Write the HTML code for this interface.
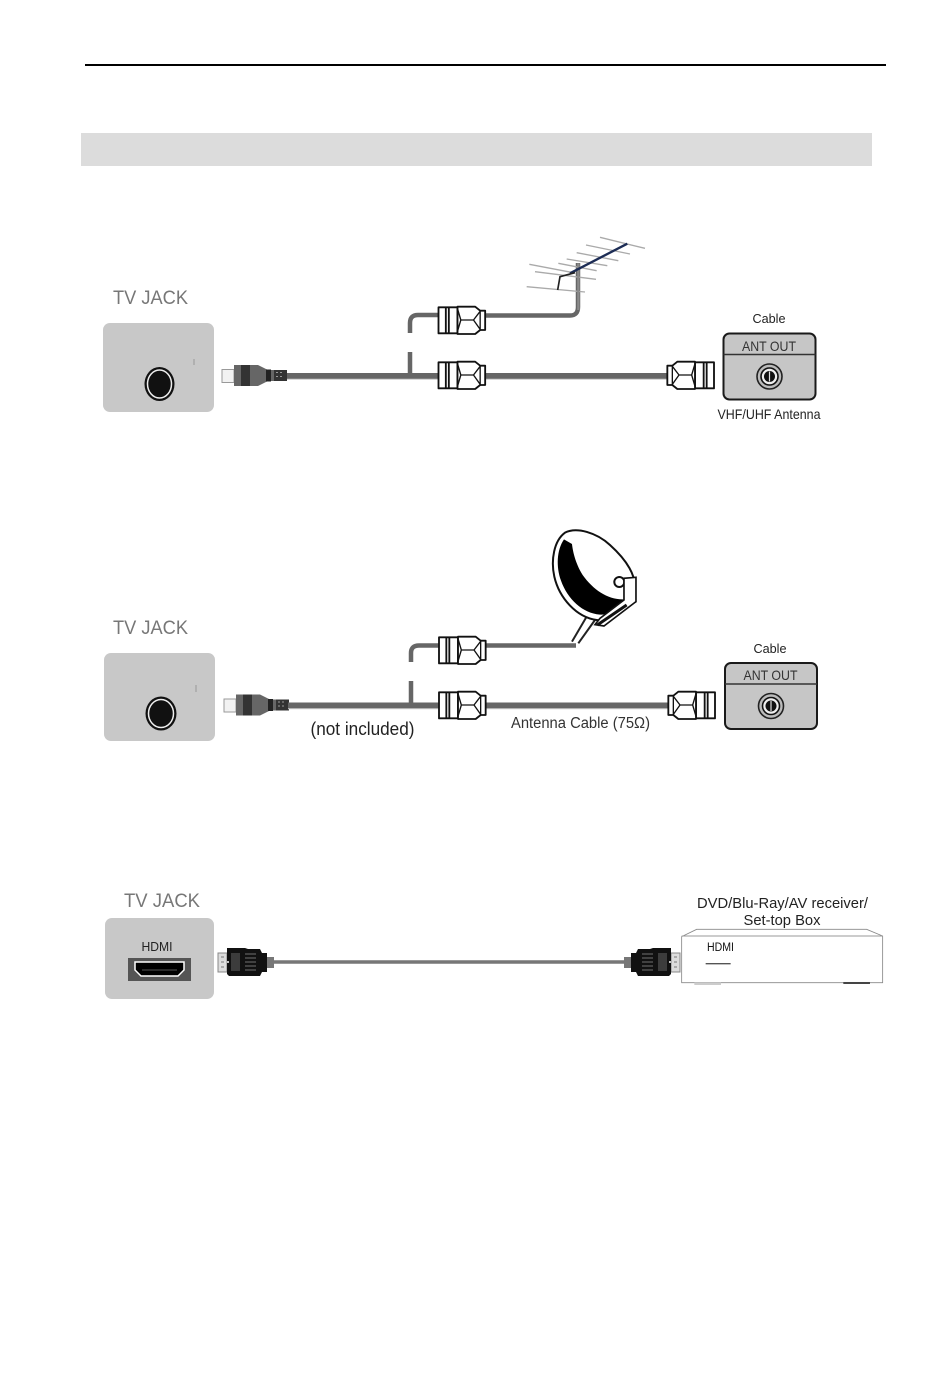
<!DOCTYPE html>
<html><head><meta charset="utf-8"><style>
html,body{margin:0;padding:0;background:#fff;width:950px;height:1381px;overflow:hidden}
svg{display:block}
text{font-family:"Liberation Sans",sans-serif}
</style></head><body>
<svg width="950" height="1381" viewBox="0 0 950 1381" xmlns="http://www.w3.org/2000/svg">
<defs>
<g id="f" fill="#fff" stroke="#111" stroke-linejoin="round">
<g transform="scale(.3333) translate(-25,-58)" stroke-width="5.500">
<rect x="25" y="20" width="57" height="78"/>
<path d="M47 20V98M56 20V98" fill="none"/>
<path d="M82 18H135L150 30H165V88H150L135 100H82Z"/>
<path d="M82 24L92 58L82 92M92 58H130L150 32M130 58L150 86M150 30V88" fill="none" stroke-width="4"/>
</g>
</g>
<g id="coax">
<rect x="222" y="-6" width="12" height="13" fill="#f2f2f2" stroke="#999" stroke-width="1"/>
<path d="M234 -10.500H258L268 -5.500H287V5.500H268L258 10.500H234Z" fill="#666"/>
<rect x="241" y="-10.500" width="9" height="21" fill="#333"/>
<rect x="266" y="-6" width="5" height="12" fill="#222"/>
<path d="M274 -5.500H287V5.500H274Z" fill="#333"/>
<path d="M276 -3h2M280 -3h2M276 1h2M280 1h2" stroke="#999" stroke-width="1"/>
</g>
<g id="hdmi">
<rect x="0" y="-9" width="9" height="19" fill="#ddd" stroke="#888" stroke-width="1"/>
<path d="M3 -5h3M3 0h3M3 5h3" stroke="#777"/>
<path d="M9 -14H27L30 -13H42L44 -9H49V10H44L42 14H11L9 12Z" fill="#111"/>
<rect x="13" y="-9" width="9" height="18" fill="#3c3c3c"/>
<path d="M27 -8h11M27 -4h11M27 0h11M27 4h11M27 8h11" stroke="#484848" stroke-width="1.800"/>
<circle cx="10" cy="0" r="1" fill="#fff"/>
<rect x="49" y="-5" width="7" height="11" fill="#777"/>
</g>
<g id="ant">
<rect x="0" y="0" width="92" height="66" rx="6" fill="#c6c6c6" stroke="#1a1a1a" stroke-width="2"/>
<path d="M0 21H92" stroke="#333" stroke-width="1.600"/>
<circle cx="46" cy="43" r="12.500" fill="#bbb" stroke="#222" stroke-width="1.600"/>
<circle cx="46" cy="43" r="8.500" fill="#eee" stroke="#111" stroke-width="1.600"/>
<circle cx="46" cy="43" r="5.500" fill="#111"/>
<path d="M46 38V48" stroke="#ddd" stroke-width="1.200"/>
</g>
</defs>

<rect width="950" height="1381" fill="#fff"/>
<rect x="85" y="64" width="801" height="2" fill="#000"/>
<rect x="81" y="133" width="791" height="33" fill="#dcdcdc"/>

<!-- Diagram 1 -->
<text x="113" y="304" font-size="19" fill="#777" textLength="75" lengthAdjust="spacingAndGlyphs">TV JACK</text>
<rect x="103" y="323" width="111" height="89" rx="7" fill="#c8c8c8"/>
<path d="M194 359v6" stroke="#999"/>
<ellipse cx="159.500" cy="384" rx="15" ry="17" fill="#111"/>
<ellipse cx="159.500" cy="384" rx="12" ry="14" fill="none" stroke="#eee" stroke-width="1.500"/>
<use href="#coax" transform="translate(0,375.500)"/>
<path d="M287 376H669" stroke="#666" stroke-width="6"/>
<path d="M287 379.300H669" stroke="#ccc" stroke-width="1"/>
<path d="M410 376V352M410 333V323Q410 315 418 315H440" fill="none" stroke="#666" stroke-width="4.500"/>
<path d="M485 315.500H570Q578 315.500 578 307V263" fill="none" stroke="#666" stroke-width="4.500"/>
<use href="#f" transform="translate(438.500,320)"/>
<use href="#f" transform="translate(438.500,375)"/>
<use href="#f" transform="translate(714,375) scale(-1,1)"/>
<g transform="translate(520,230) scale(.3333)" fill="none">
<g stroke="#aaa" stroke-width="4">
<path d="M240 22L375 55M198 45L330 72M170 68L295 92M140 87L262 107M115 100L230 122M28 103L160 128M45 125L228 148M20 170L195 186"/>
</g>
<path d="M175 100V240" stroke="#8a8a8a" stroke-width="7"/>
<path d="M322 41L150 130" stroke="#1c2c55" stroke-width="7"/>
<path d="M165 128L120 140L113 180" stroke="#222" stroke-width="5"/>
</g>
<text x="769" y="323" font-size="12.500" fill="#222" text-anchor="middle" textLength="33" lengthAdjust="spacingAndGlyphs">Cable</text>
<use href="#ant" transform="translate(723.500,333.500)"/>
<text x="769" y="351" font-size="14" fill="#333" text-anchor="middle" textLength="54" lengthAdjust="spacingAndGlyphs">ANT OUT</text>
<text x="769" y="419" font-size="14" fill="#222" text-anchor="middle" textLength="103" lengthAdjust="spacingAndGlyphs">VHF/UHF Antenna</text>

<!-- Diagram 2 -->
<text x="113" y="634" font-size="19" fill="#777" textLength="75" lengthAdjust="spacingAndGlyphs">TV JACK</text>
<rect x="104" y="653" width="111" height="88" rx="7" fill="#c8c8c8"/>
<path d="M196 685v7" stroke="#999"/>
<ellipse cx="161" cy="713.500" rx="15.500" ry="17" fill="#111"/>
<ellipse cx="161" cy="713.500" rx="12.500" ry="14" fill="none" stroke="#eee" stroke-width="1.500"/>
<use href="#coax" transform="translate(2,705)"/>
<path d="M288 705.500H669" stroke="#666" stroke-width="6"/>
<path d="M288 708.800H669" stroke="#ccc" stroke-width="1"/>
<path d="M411 705V681M411 662V653Q411 645.500 419 645.500H440" fill="none" stroke="#666" stroke-width="4.500"/>
<path d="M485 645.500H576" fill="none" stroke="#666" stroke-width="4.500"/>
<use href="#f" transform="translate(439,650)"/>
<use href="#f" transform="translate(439,705)"/>
<use href="#f" transform="translate(715,705) scale(-1,1)"/>
<g transform="translate(400,520) scale(.3333)">
<path d="M560 290L516 365M585 300L535 370" fill="none" stroke="#222" stroke-width="6"/>
<path d="M495 38C530 20 590 38 630 75C680 120 712 170 702 210C690 258 640 308 590 300C530 292 478 235 463 170C452 120 462 62 495 38Z" fill="#fff" stroke="#111" stroke-width="6"/>
<path d="M492 58C470 90 468 140 483 182C503 238 548 280 600 284C635 284 655 262 672 238C625 240 580 210 548 165C525 128 518 90 516 72Z" fill="#000"/>
<circle cx="658" cy="186" r="15" fill="#fff" stroke="#111" stroke-width="6"/>
<path d="M672 175V240L600 295L585 314L612 318L708 245V172Z" fill="#fff" stroke="#111" stroke-width="5"/>
<path d="M592 315L680 255" stroke="#111" stroke-width="9"/>
</g>
<text x="770" y="653" font-size="12.500" fill="#222" text-anchor="middle" textLength="33" lengthAdjust="spacingAndGlyphs">Cable</text>
<use href="#ant" transform="translate(725,663)"/>
<text x="770.500" y="680" font-size="14" fill="#333" text-anchor="middle" textLength="54" lengthAdjust="spacingAndGlyphs">ANT OUT</text>
<text x="362.500" y="735" font-size="18" fill="#222" text-anchor="middle" textLength="104" lengthAdjust="spacingAndGlyphs">(not included)</text>
<text x="511" y="728" font-size="15.500" fill="#333" textLength="139" lengthAdjust="spacingAndGlyphs">Antenna Cable (75Ω)</text>

<!-- Diagram 3 -->
<text x="124" y="907" font-size="19" fill="#777" textLength="76" lengthAdjust="spacingAndGlyphs">TV JACK</text>
<rect x="105" y="918" width="109" height="81" rx="7" fill="#c8c8c8"/>
<text x="157" y="951" font-size="12.500" fill="#222" text-anchor="middle" textLength="31" lengthAdjust="spacingAndGlyphs">HDMI</text>
<rect x="128" y="958" width="63" height="23" fill="#555"/>
<path d="M135 962H184V970L178 976H141L135 970Z" fill="#000" stroke="#fff" stroke-width="1.500"/>
<path d="M142 970H177" stroke="#555"/>
<use href="#hdmi" transform="translate(218,962)"/>
<path d="M274 962H626" stroke="#777" stroke-width="3.500"/>
<use href="#hdmi" transform="translate(680,962) scale(-1,1)"/>
<text x="782.500" y="908" font-size="15" fill="#222" text-anchor="middle" textLength="171" lengthAdjust="spacingAndGlyphs">DVD/Blu-Ray/AV receiver/</text>
<text x="782" y="925" font-size="15" fill="#222" text-anchor="middle" textLength="77" lengthAdjust="spacingAndGlyphs">Set-top Box</text>
<g transform="translate(600,880) scale(.3333)">
<path d="M245 170L290 148H800L848 168V308H245Z" fill="#fff" stroke="#888" stroke-width="2.500"/>
<path d="M245 168H848" stroke="#999" stroke-width="3"/>
<path d="M317 251H392" stroke="#555" stroke-width="4"/>
<rect x="283" y="308" width="80" height="7" fill="#ccc"/>
<rect x="730" y="306" width="80" height="6" fill="#444"/>
</g>
<text x="707" y="951" font-size="11.500" fill="#111" textLength="27" lengthAdjust="spacingAndGlyphs">HDMI</text>
</svg>
</body></html>
